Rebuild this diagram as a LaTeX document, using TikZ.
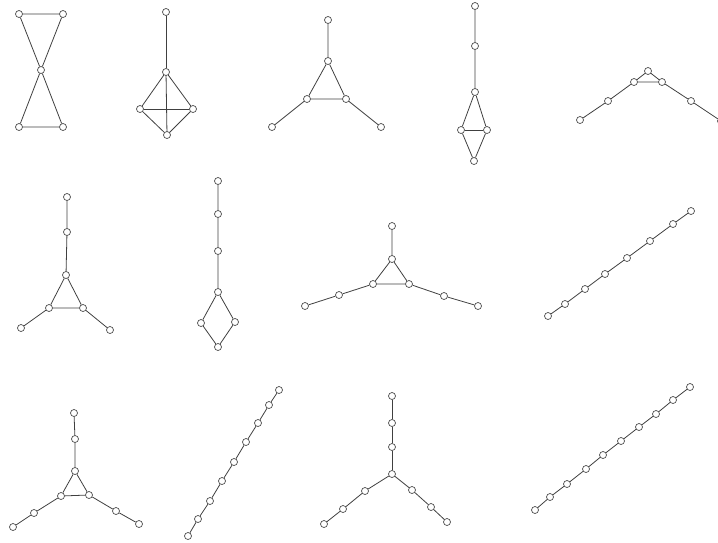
\documentclass[tikz,border=0pt]{standalone}
\usetikzlibrary{positioning}
\tikzset{
  g/vertex/.style={draw=black!70, fill=white, circle, inner sep=0pt, minimum size=7pt, line width=0.7pt},
  g/edge/.style={draw=black!75, line width=0.8pt}
}

\begin{document}
\begin{tikzpicture}[x=1pt, y=-1pt]
  \useasboundingbox (0,0) rectangle (718,542);

  % Row 1: bowtie
  \node[g/vertex] (bwtl) at (19,14) {};
  \node[g/vertex] (bwtr) at (63,14) {};
  \node[g/vertex] (bwc) at (41,70) {};
  \node[g/vertex] (bwbl) at (19,127) {};
  \node[g/vertex] (bwbr) at (63,127) {};
  \draw[g/edge] (bwtl) -- (bwtr) -- (bwc) -- (bwtl);
  \draw[g/edge] (bwbl) -- (bwbr) -- (bwc) -- (bwbl);

  % K4 with a pendant vertex
  \node[g/vertex] (kt) at (166,12) {};
  \node[g/vertex] (ka) at (166,72) {};
  \node[g/vertex] (kl) at (140,109) {};
  \node[g/vertex] (kr) at (193,109) {};
  \node[g/vertex] (kb) at (167,135) {};
  \draw[g/edge] (kt) -- (ka);
  \draw[g/edge] (ka) -- (kl) -- (kb) -- (kr) -- (ka) -- (kb);
  \draw[g/edge] (kl) -- (kr);

  % triangle with three pendants
  \node[g/vertex] (ta) at (328,20) {};
  \node[g/vertex] (tb) at (328,61) {};
  \node[g/vertex] (tc) at (307,99) {};
  \node[g/vertex] (td) at (346,99) {};
  \node[g/vertex] (te) at (272,127) {};
  \node[g/vertex] (tf) at (381,127) {};
  \draw[g/edge] (ta) -- (tb) -- (tc) -- (td) -- (tb);
  \draw[g/edge] (tc) -- (te);
  \draw[g/edge] (td) -- (tf);

  % diamond with a tail
  \node[g/vertex] (da) at (475,6) {};
  \node[g/vertex] (db) at (475,46) {};
  \node[g/vertex] (dc) at (475,92) {};
  \node[g/vertex] (dd) at (461,130) {};
  \node[g/vertex] (de) at (487,130) {};
  \node[g/vertex] (df) at (474,161) {};
  \draw[g/edge] (da) -- (db) -- (dc) -- (dd) -- (df) -- (de) -- (dc);
  \draw[g/edge] (dd) -- (de);

  % flat triangle with two arms
  \node[g/vertex] (fa) at (648,71) {};
  \node[g/vertex] (fb) at (634,82) {};
  \node[g/vertex] (fc) at (662,82) {};
  \node[g/vertex] (fd) at (608,101) {};
  \node[g/vertex] (fe) at (580,120) {};
  \node[g/vertex] (ff) at (691,101) {};
  \node[g/vertex] (fg) at (721,121) {};
  \draw[g/edge] (fa) -- (fb) -- (fc) -- (fa);
  \draw[g/edge] (fb) -- (fd) -- (fe);
  \draw[g/edge] (fc) -- (ff) -- (fg);

  % Row 2: triangle, long stem
  \node[g/vertex] (sa) at (67,197) {};
  \node[g/vertex] (sb) at (67,232) {};
  \node[g/vertex] (sc) at (66,275) {};
  \node[g/vertex] (sd) at (49,308) {};
  \node[g/vertex] (se) at (83,308) {};
  \node[g/vertex] (sf) at (21,328) {};
  \node[g/vertex] (sg) at (110,330) {};
  \draw[g/edge] (sa) -- (sb) -- (sc) -- (sd) -- (se) -- (sc);
  \draw[g/edge] (sd) -- (sf);
  \draw[g/edge] (se) -- (sg);

  % 4-cycle with a long tail
  \node[g/vertex] (ca) at (218,181) {};
  \node[g/vertex] (cb) at (218,214) {};
  \node[g/vertex] (cc) at (218,251) {};
  \node[g/vertex] (cd) at (218,292) {};
  \node[g/vertex] (ce) at (201,323) {};
  \node[g/vertex] (cf) at (235,322) {};
  \node[g/vertex] (cg) at (218,347) {};
  \draw[g/edge] (ca) -- (cb) -- (cc) -- (cd) -- (ce) -- (cg) -- (cf) -- (cd);

  % triangle with long arms
  \node[g/vertex] (ua) at (392,226) {};
  \node[g/vertex] (ub) at (392,259) {};
  \node[g/vertex] (uc) at (373,284) {};
  \node[g/vertex] (ud) at (409,284) {};
  \node[g/vertex] (ue) at (339,295) {};
  \node[g/vertex] (uf) at (305,306) {};
  \node[g/vertex] (ug) at (444,296) {};
  \node[g/vertex] (uh) at (478,306) {};
  \draw[g/edge] (ua) -- (ub) -- (uc) -- (ud) -- (ub);
  \draw[g/edge] (uc) -- (ue) -- (uf);
  \draw[g/edge] (ud) -- (ug) -- (uh);

  % path on 8 vertices
  \foreach \x/\y [count=\i] in {548/316, 565/304, 585/289, 605/274, 627/258, 650/241, 673/224, 691/211}
    \node[g/vertex] (pa\i) at (\x,\y) {};
  \foreach \i [remember=\i as \lasti (initially 1)] in {2,...,8}
    \draw[g/edge] (pa\lasti) -- (pa\i);

  % Row 3: triangle with three arms
  \node[g/vertex] (ra) at (74,413) {};
  \node[g/vertex] (rb) at (75,439) {};
  \node[g/vertex] (rc) at (75,471) {};
  \node[g/vertex] (rd) at (61,496) {};
  \node[g/vertex] (re) at (89,495) {};
  \node[g/vertex] (rf) at (34,513) {};
  \node[g/vertex] (rg) at (13,527) {};
  \node[g/vertex] (rh) at (116,511) {};
  \node[g/vertex] (ri) at (139,524) {};
  \draw[g/edge] (ra) -- (rb) -- (rc) -- (rd) -- (re) -- (rc);
  \draw[g/edge] (rd) -- (rf) -- (rg);
  \draw[g/edge] (re) -- (rh) -- (ri);

  % path on 9 vertices
  \foreach \x/\y [count=\i] in {188/536, 198/519, 210/501, 222/481, 234/462, 246/442, 258/423, 269/405, 279/390}
    \node[g/vertex] (pb\i) at (\x,\y) {};
  \foreach \i [remember=\i as \lasti (initially 1)] in {2,...,9}
    \draw[g/edge] (pb\lasti) -- (pb\i);

  % spider with three legs of length 3
  \node[g/vertex] (xc) at (392,474) {};
  \foreach \x/\y [count=\i] in {392/447, 392/423, 392/396}
    \node[g/vertex] (xu\i) at (\x,\y) {};
  \foreach \x/\y [count=\i] in {365/491, 343/509, 324/524}
    \node[g/vertex] (xl\i) at (\x,\y) {};
  \foreach \x/\y [count=\i] in {412/490, 431/507, 447/522}
    \node[g/vertex] (xr\i) at (\x,\y) {};
  \draw[g/edge] (xc) -- (xu1) -- (xu2) -- (xu3);
  \draw[g/edge] (xc) -- (xl1) -- (xl2) -- (xl3);
  \draw[g/edge] (xc) -- (xr1) -- (xr2) -- (xr3);

  % path on 10 vertices
  \foreach \x/\y [count=\i] in {535/510, 550/497, 567/484, 586/469, 603/455, 621/441, 639/427, 656/414, 673/400, 690/387}
    \node[g/vertex] (pc\i) at (\x,\y) {};
  \foreach \i [remember=\i as \lasti (initially 1)] in {2,...,10}
    \draw[g/edge] (pc\lasti) -- (pc\i);
\end{tikzpicture}
\end{document}
